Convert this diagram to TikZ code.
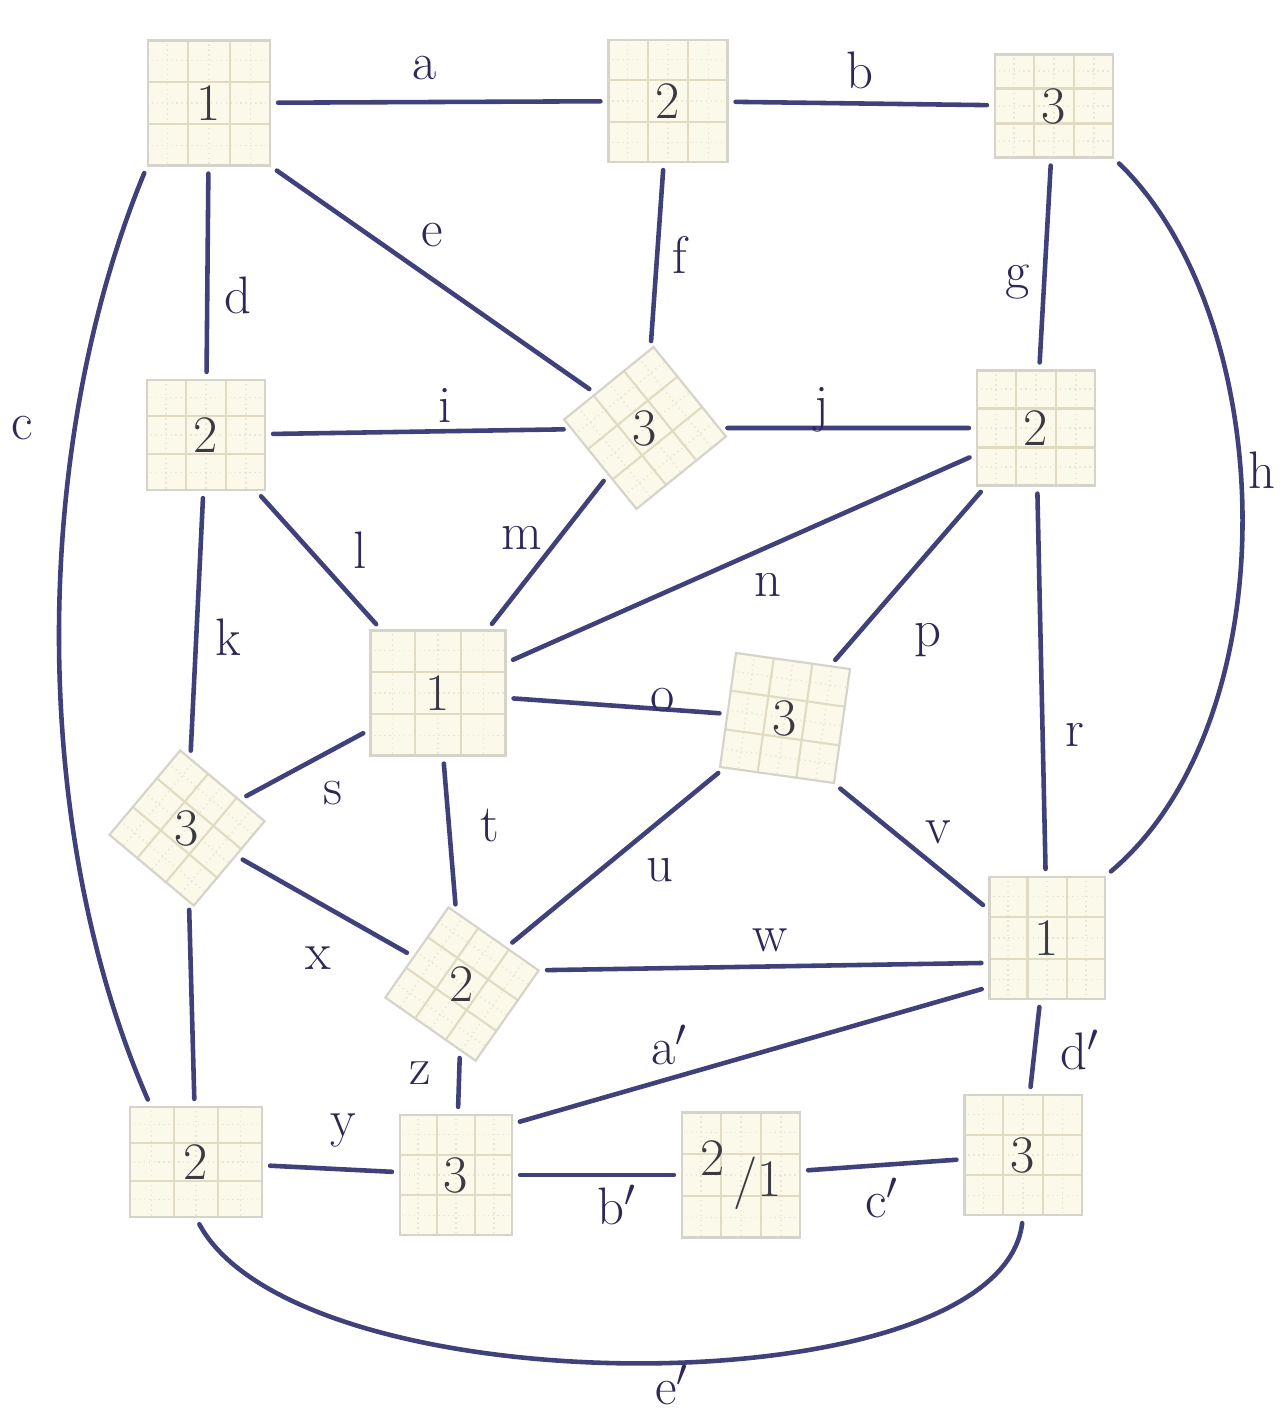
\documentclass[tikz,border=0pt]{standalone}
\usepackage{graphicx}
\usetikzlibrary{calc}
\pgfdeclarelayer{background}
\pgfsetlayers{background,main}
\definecolor{ink}{HTML}{40407A}
\definecolor{lab}{HTML}{2E2858}
\definecolor{num}{HTML}{3A3A40}
\definecolor{papercol}{HTML}{FBF9EA}
\definecolor{pborder}{HTML}{D6D4CA}
\definecolor{gmaj}{HTML}{E0DBC2}
\definecolor{gmin}{HTML}{EAE7DA}
\tikzset{
  paper/.style={rectangle, draw=pborder, line width=0.6pt, inner sep=0pt,
    text=num, font=\fontsize{15}{18}\selectfont},
  edge/.style={draw=ink, line width=1.3pt, line cap=round, shorten <=2pt, shorten >=2pt},
  lbl/.style={text=lab, font=\fontsize{15}{18}\selectfont, inner sep=0pt},
}
\begin{document}
\begin{tikzpicture}[x=0.01cm, y=-0.01cm]
\useasboundingbox (0,0) rectangle (1286,1413);

% nodes (paper squares)
\node[paper, minimum width=1.22cm, minimum height=1.25cm] (n1) at (209,103) {1};
\node[paper, minimum width=1.19cm, minimum height=1.22cm] (n2) at (668,101) {2};
\node[paper, minimum width=1.18cm, minimum height=1.03cm] (n3) at (1054,106) {3};
\node[paper, minimum width=1.18cm, minimum height=1.10cm] (n4) at (206,435) {2};
\node[paper, minimum size=1.15cm, rotate=39] (n5) at (645,428) {\rotatebox{-39}{3}};
\node[paper, minimum width=1.18cm, minimum height=1.15cm] (n6) at (1036,428) {2};
\node[paper, minimum width=1.35cm, minimum height=1.25cm] (n7) at (438,693) {1};
\node[paper, minimum size=1.15cm, rotate=-8] (n8) at (785,718) {\rotatebox{8}{3}};
\node[paper, minimum size=1.10cm, rotate=-40] (n9) at (187,828) {\rotatebox{40}{3}};
\node[paper, minimum size=1.10cm, rotate=-35] (n10) at (462,984) {\rotatebox{35}{2}};
\node[paper, minimum width=1.15cm, minimum height=1.22cm] (n11) at (1047,938) {1};
\node[paper, minimum width=1.32cm, minimum height=1.10cm] (n12) at (196,1162) {2};
\node[paper, minimum width=1.12cm, minimum height=1.20cm] (n13) at (456,1175) {3};
\node[paper, minimum width=1.18cm, minimum height=1.25cm] (n14) at (741,1175) {2\,\raisebox{-0.4em}{/1}};
\node[paper, minimum width=1.17cm, minimum height=1.20cm] (n15) at (1023,1155) {3};

% background, paper fill and grid
\begin{pgfonlayer}{background}
\fill[white] (0,0) rectangle (1286,1413);
\foreach \nd in {n1,n2,n3,n4,n5,n6,n7,n8,n9,n10,n11,n12,n13,n14,n15} {
  \fill[papercol] (\nd.north west) -- (\nd.north east) -- (\nd.south east) -- (\nd.south west) -- cycle;
  \foreach \f in {0.1667,0.5,0.8333} {
    \draw[gmin, line width=0.4pt, densely dotted] ($(\nd.north west)!\f!(\nd.north east)$) -- ($(\nd.south west)!\f!(\nd.south east)$);
    \draw[gmin, line width=0.4pt, densely dotted] ($(\nd.north west)!\f!(\nd.south west)$) -- ($(\nd.north east)!\f!(\nd.south east)$);
  }
  \foreach \f in {0.3333,0.6667} {
    \draw[gmaj, line width=0.6pt] ($(\nd.north west)!\f!(\nd.north east)$) -- ($(\nd.south west)!\f!(\nd.south east)$);
    \draw[gmaj, line width=0.6pt] ($(\nd.north west)!\f!(\nd.south west)$) -- ($(\nd.north east)!\f!(\nd.south east)$);
  }
}
\end{pgfonlayer}

% connectors
\draw[edge] (n1) -- (n2);
\draw[edge] (n2) -- (n3);
\draw[edge] (n1.south west) .. controls (30,450) and (30,830) .. (n12.129);
\draw[edge] (n1) -- (n4);
\draw[edge] (n1.south east) -- (n5);
\draw[edge] (n2) -- (n5);
\draw[edge] (n3) -- (n6);
\draw[edge] (n3.south east) .. controls (1280,320) and (1290,720) .. (n11.north east);
\draw[edge] (n4) -- (n5);
\draw[edge] (n5) -- (n6);
\draw[edge] (n4) -- (n9);
\draw[edge] (n4) -- (n7);
\draw[edge] (n5) -- (n7);
\draw[edge] (n6) -- (n7);
\draw[edge] (n7) -- (n8);
\draw[edge] (n6) -- (n8);
\draw[edge] (n6) -- (n11);
\draw[edge] (n7) -- (n9);
\draw[edge] (n7) -- (n10);
\draw[edge] (n8) -- (n10);
\draw[edge] (n8.south east) -- (n11.154);
\draw[edge] (n10.north east) -- (n11.203);
\draw[edge] (n9) -- (n10);
\draw[edge] (n9) -- (n12);
\draw[edge] (n12) -- (n13);
\draw[edge] (n10) -- (n13);
\draw[edge] (n11.220) -- (n13.42);
\draw[edge] (n13) -- (n14);
\draw[edge] (n14) -- (n15);
\draw[edge] (n11) -- (n15);
\draw[edge] (n12.south) .. controls (300,1410) and (1000,1410) .. (n15.south);

% connector labels
\node[lbl] (la) at (425,68) {a};
\node[lbl] (lb) at (860,70) {b};
\node[lbl] (lc) at (22,428) {c};
\node[lbl] (ld) at (238,295) {d};
\node[lbl] (le) at (432,235) {e};
\node[lbl] (lf) at (680,255) {f};
\node[lbl] (lg) at (1018,282) {g};
\node[lbl] (lh) at (1262,470) {h};
\node[lbl] (li) at (445,405) {i};
\node[lbl] (lj) at (822,410) {j};
\node[lbl] (lk) at (228,637) {k};
\node[lbl] (ll) at (360,550) {l};
\node[lbl] (lm) at (522,538) {m};
\node[lbl] (ln) at (768,585) {n};
\node[lbl] (lo) at (663,700) {o};
\node[lbl] (lp) at (928,640) {p};
\node[lbl] (lr) at (1075,735) {r};
\node[lbl] (ls) at (333,793) {s};
\node[lbl] (lt) at (490,825) {t};
\node[lbl] (lu) at (660,870) {u};
\node[lbl] (lv) at (938,832) {v};
\node[lbl] (lw) at (770,940) {w};
\node[lbl] (lx) at (318,958) {x};
\node[lbl] (ly) at (343,1130) {y};
\node[lbl] (lz) at (420,1073) {z};
\node[lbl] (lap) at (670,1045) {a$'$};
\node[lbl] (lbp) at (617,1205) {b$'$};
\node[lbl] (lcp) at (882,1198) {c$'$};
\node[lbl] (ldp) at (1080,1050) {d$'$};
\node[lbl] (lep) at (672,1385) {e$'$};
\end{tikzpicture}
\end{document}
